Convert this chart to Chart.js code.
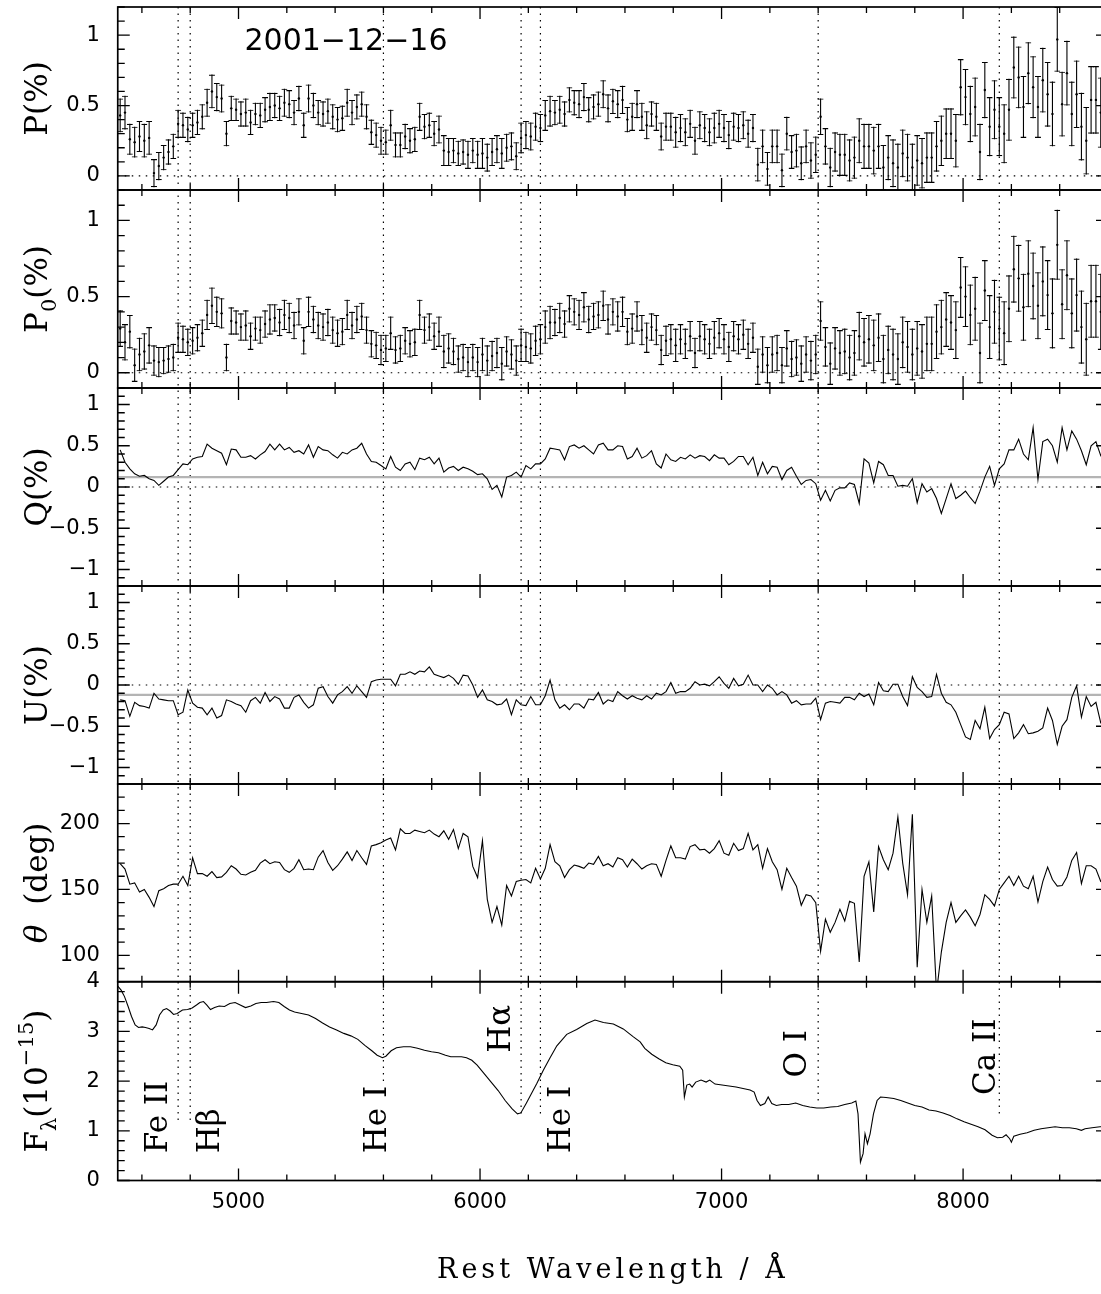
<!DOCTYPE html>
<html>
<head>
<meta charset="utf-8">
<title>2001-12-16 spectropolarimetry</title>
<script src="https://cdn.jsdelivr.net/npm/chart.js@4.4.1/dist/chart.umd.min.js"></script>
<style>
  html, body { margin: 0; padding: 0; background: #fff; overflow: hidden; }
  #wrap { width: 1110px; height: 1294px; }
</style>
</head>
<body>
<div id="wrap"><canvas id="chart" width="1110" height="1294"></canvas></div>
<script>
// rest wavelength bins (Å)
const wave = [
  4510,4530,4550,4570,4590,4610,4630,4650,4670,4690,
  4710,4730,4750,4770,4790,4810,4830,4850,4870,4890,
  4910,4930,4950,4970,4990,5010,5030,5050,5070,5090,
  5110,5130,5150,5170,5190,5210,5230,5250,5270,5290,
  5310,5330,5350,5370,5390,5410,5430,5450,5470,5490,
  5510,5530,5550,5570,5590,5610,5630,5650,5670,5690,
  5710,5730,5750,5770,5790,5810,5830,5850,5870,5890,
  5910,5930,5950,5970,5990,6010,6030,6050,6070,6090,
  6110,6130,6150,6170,6190,6210,6230,6250,6270,6290,
  6310,6330,6350,6370,6390,6410,6430,6450,6470,6490,
  6510,6530,6550,6570,6590,6610,6630,6650,6670,6690,
  6710,6730,6750,6770,6790,6810,6830,6850,6870,6890,
  6910,6930,6950,6970,6990,7010,7030,7050,7070,7090,
  7110,7130,7150,7170,7190,7210,7230,7250,7270,7290,
  7310,7330,7350,7370,7390,7410,7430,7450,7470,7490,
  7510,7530,7550,7570,7590,7610,7630,7650,7670,7690,
  7710,7730,7750,7770,7790,7810,7830,7850,7870,7890,
  7910,7930,7950,7970,7990,8010,8030,8050,8070,8090,
  8110,8130,8150,8170,8190,8210,8230,8250,8270,8290,
  8310,8330,8350,8370,8390,8410,8430,8450,8470,8490,
  8510,8530,8550,8570,8590
];

// P (%)
const polP = [
  0.43,0.45,0.26,0.24,0.28,0.25,0.27,0.02,0.07,0.13,
  0.17,0.21,0.37,0.36,0.33,0.36,0.38,0.42,0.52,0.60,
  0.56,0.55,0.30,0.48,0.47,0.44,0.45,0.38,0.44,0.43,
  0.47,0.49,0.50,0.48,0.52,0.51,0.45,0.55,0.36,0.55,
  0.50,0.45,0.44,0.46,0.42,0.40,0.41,0.52,0.45,0.49,
  0.51,0.42,0.31,0.29,0.25,0.24,0.36,0.22,0.22,0.28,
  0.25,0.26,0.42,0.35,0.36,0.30,0.33,0.18,0.17,0.18,
  0.16,0.17,0.15,0.18,0.15,0.16,0.13,0.17,0.19,0.16,
  0.20,0.21,0.14,0.27,0.29,0.28,0.35,0.34,0.43,0.46,
  0.45,0.47,0.44,0.54,0.52,0.51,0.56,0.47,0.49,0.51,
  0.58,0.48,0.53,0.51,0.54,0.40,0.42,0.51,0.42,0.36,
  0.44,0.42,0.28,0.35,0.35,0.31,0.34,0.31,0.37,0.25,
  0.36,0.34,0.31,0.34,0.37,0.34,0.29,0.35,0.34,0.36,
  0.30,0.34,0.08,0.21,0.05,0.21,0.21,0.04,0.30,0.17,
  0.18,0.09,0.21,0.11,0.15,0.42,0.21,0.06,0.17,0.15,
  0.15,0.11,0.13,0.25,0.21,0.21,0.18,0.21,0.06,0.13,
  0.09,0.06,0.16,0.13,0.06,0.11,0.09,0.13,0.13,0.21,
  0.25,0.30,0.30,0.25,0.63,0.56,0.44,0.49,0.17,0.61,
  0.35,0.47,0.35,0.30,0.47,0.77,0.70,0.49,0.73,0.63,
  0.49,0.68,0.58,0.44,0.97,0.51,0.73,0.44,0.58,0.35,
  0.25,0.54,0.54,0.45,0.50
];

// 1-sigma error on P and P0 (%)
const polErr = [
  0.12,0.12,0.11,0.11,0.11,0.12,0.12,0.10,0.10,0.09,
  0.09,0.09,0.10,0.09,0.09,0.09,0.09,0.09,0.10,0.12,
  0.10,0.10,0.09,0.09,0.08,0.09,0.10,0.09,0.08,0.09,
  0.09,0.10,0.09,0.09,0.10,0.10,0.09,0.09,0.09,0.10,
  0.09,0.09,0.09,0.09,0.09,0.09,0.09,0.10,0.09,0.09,
  0.09,0.09,0.09,0.09,0.10,0.09,0.11,0.09,0.09,0.09,
  0.09,0.09,0.10,0.09,0.09,0.09,0.10,0.11,0.10,0.09,
  0.09,0.09,0.10,0.09,0.10,0.11,0.10,0.10,0.10,0.11,
  0.10,0.10,0.10,0.11,0.10,0.10,0.10,0.10,0.11,0.11,
  0.09,0.10,0.09,0.09,0.09,0.10,0.10,0.09,0.09,0.09,
  0.10,0.10,0.09,0.10,0.10,0.09,0.10,0.10,0.10,0.10,
  0.09,0.10,0.10,0.10,0.10,0.11,0.10,0.10,0.10,0.10,
  0.10,0.10,0.10,0.11,0.10,0.10,0.10,0.10,0.10,0.10,
  0.10,0.10,0.12,0.12,0.12,0.12,0.12,0.12,0.12,0.12,
  0.12,0.12,0.12,0.13,0.13,0.13,0.13,0.14,0.14,0.15,
  0.15,0.15,0.15,0.16,0.16,0.16,0.17,0.16,0.16,0.16,
  0.17,0.17,0.17,0.17,0.17,0.18,0.18,0.18,0.18,0.18,
  0.18,0.18,0.18,0.19,0.20,0.20,0.20,0.21,0.20,0.20,
  0.21,0.21,0.21,0.21,0.22,0.22,0.22,0.22,0.22,0.22,
  0.22,0.23,0.23,0.23,0.23,0.23,0.23,0.23,0.24,0.24,
  0.24,0.24,0.24,0.25,0.25
];

// P0 (%), ISP removed
const polP0 = [
  0.29,0.20,0.27,0.05,0.12,0.14,0.18,0.08,0.07,0.08,
  0.09,0.10,0.23,0.22,0.20,0.21,0.23,0.26,0.38,0.44,
  0.40,0.39,0.10,0.34,0.33,0.30,0.31,0.24,0.29,0.28,
  0.32,0.35,0.36,0.33,0.38,0.36,0.31,0.40,0.21,0.40,
  0.35,0.31,0.30,0.33,0.28,0.26,0.27,0.38,0.31,0.35,
  0.37,0.28,0.19,0.18,0.15,0.16,0.26,0.15,0.16,0.21,
  0.19,0.20,0.38,0.28,0.30,0.24,0.27,0.14,0.16,0.14,
  0.09,0.10,0.07,0.10,0.07,0.12,0.08,0.11,0.13,0.06,
  0.14,0.12,0.08,0.18,0.17,0.16,0.21,0.22,0.30,0.33,
  0.33,0.36,0.32,0.42,0.40,0.38,0.43,0.35,0.37,0.38,
  0.44,0.35,0.40,0.37,0.40,0.27,0.29,0.37,0.28,0.23,
  0.30,0.28,0.15,0.21,0.22,0.18,0.22,0.19,0.24,0.13,
  0.24,0.22,0.19,0.23,0.26,0.22,0.17,0.24,0.22,0.25,
  0.19,0.23,0.04,0.12,0.05,0.12,0.13,0.05,0.16,0.09,
  0.10,0.06,0.12,0.08,0.12,0.34,0.17,0.06,0.16,0.13,
  0.14,0.10,0.13,0.24,0.20,0.22,0.18,0.23,0.09,0.15,
  0.12,0.09,0.20,0.17,0.12,0.16,0.14,0.19,0.19,0.27,
  0.30,0.35,0.33,0.28,0.56,0.50,0.38,0.42,0.13,0.54,
  0.30,0.40,0.29,0.26,0.42,0.68,0.62,0.43,0.65,0.57,
  0.44,0.60,0.51,0.39,0.84,0.45,0.64,0.39,0.51,0.30,
  0.22,0.47,0.47,0.40,0.44
];

// Stokes Q (%)
const stokesQ = [
  0.45,0.30,0.22,0.16,0.13,0.14,0.10,0.08,0.02,0.07,
  0.12,0.14,0.21,0.28,0.27,0.34,0.36,0.37,0.52,0.47,
  0.44,0.41,0.27,0.46,0.45,0.36,0.36,0.38,0.34,0.39,
  0.43,0.52,0.45,0.52,0.45,0.48,0.42,0.44,0.40,0.51,
  0.36,0.49,0.45,0.44,0.39,0.35,0.42,0.40,0.45,0.47,
  0.53,0.40,0.31,0.30,0.26,0.22,0.37,0.24,0.20,0.28,
  0.30,0.21,0.35,0.33,0.36,0.28,0.35,0.18,0.23,0.25,
  0.20,0.24,0.22,0.19,0.15,0.16,0.10,-0.03,0.02,-0.12,
  0.12,0.14,0.18,0.12,0.26,0.22,0.28,0.28,0.34,0.47,
  0.46,0.45,0.33,0.49,0.51,0.47,0.50,0.45,0.40,0.51,
  0.53,0.45,0.45,0.50,0.49,0.34,0.37,0.47,0.35,0.38,
  0.44,0.28,0.23,0.40,0.33,0.31,0.36,0.34,0.39,0.35,
  0.38,0.37,0.32,0.39,0.35,0.35,0.27,0.31,0.37,0.37,
  0.27,0.36,0.14,0.30,0.16,0.25,0.24,0.09,0.20,0.24,
  0.13,0.03,0.08,0.09,0.04,-0.16,-0.04,-0.17,-0.04,-0.01,
  -0.01,0.05,0.03,-0.20,0.34,0.29,0.05,0.31,0.27,0.14,
  0.14,0.01,0.02,0.01,0.10,-0.19,0.04,-0.06,-0.02,-0.14,
  -0.32,-0.14,0.04,-0.14,-0.10,-0.05,-0.13,-0.20,-0.05,0.12,
  0.25,0.02,0.22,0.28,0.45,0.45,0.58,0.40,0.33,0.72,
  0.09,0.55,0.58,0.50,0.30,0.72,0.45,0.68,0.58,0.44,
  0.27,0.50,0.55,0.38,0.45
];

// Stokes U (%)
const stokesU = [
  -0.18,-0.19,-0.38,-0.21,-0.25,-0.26,-0.28,-0.10,-0.17,-0.18,
  -0.19,-0.19,-0.36,-0.33,-0.06,-0.22,-0.27,-0.28,-0.36,-0.28,
  -0.40,-0.37,-0.18,-0.20,-0.23,-0.25,-0.33,-0.19,-0.15,-0.22,
  -0.09,-0.20,-0.14,-0.17,-0.28,-0.28,-0.15,-0.12,-0.21,-0.28,
  -0.24,-0.04,-0.02,-0.14,-0.22,-0.12,-0.08,-0.02,-0.10,-0.01,
  -0.08,-0.15,0.04,0.06,0.07,0.07,0.07,-0.01,0.13,0.13,
  0.16,0.13,0.17,0.16,0.22,0.13,0.11,0.09,0.12,0.08,
  0.01,0.12,0.11,0.00,-0.15,-0.06,-0.18,-0.20,-0.24,-0.23,
  -0.17,-0.36,-0.18,-0.24,-0.25,-0.14,-0.24,-0.24,-0.13,0.06,
  -0.18,-0.28,-0.24,-0.30,-0.23,-0.23,-0.28,-0.17,-0.18,-0.09,
  -0.23,-0.18,-0.20,-0.08,-0.13,-0.17,-0.13,-0.16,-0.18,-0.13,
  -0.17,-0.10,-0.12,-0.08,0.03,-0.10,-0.08,-0.08,-0.04,0.04,
  0.00,0.01,-0.01,0.04,0.10,0.02,-0.04,0.08,-0.01,0.01,
  0.12,0.00,0.00,-0.08,0.00,-0.04,-0.12,-0.08,-0.12,-0.22,
  -0.19,-0.24,-0.23,-0.23,-0.16,-0.42,-0.22,-0.20,-0.21,-0.22,
  -0.15,-0.15,-0.18,-0.10,-0.14,-0.11,-0.24,0.03,-0.07,-0.08,
  0.01,0.01,-0.14,-0.25,0.10,-0.03,-0.08,-0.15,-0.14,0.13,
  -0.10,-0.21,-0.24,-0.33,-0.48,-0.63,-0.66,-0.43,-0.53,-0.27,
  -0.65,-0.54,-0.48,-0.33,-0.35,-0.65,-0.58,-0.48,-0.59,-0.58,
  -0.56,-0.52,-0.28,-0.43,-0.72,-0.50,-0.42,-0.15,-0.01,-0.39,
  -0.14,-0.26,-0.21,-0.46,-0.50
];

// position angle (deg)
const theta = [
  169.5,165.5,154,155,148,150,144,137,149,150.5,
  153,154,154,160,153,174,162,162,160,163.5,
  159,159.5,163,168,165.5,161.5,161,163,164.5,170,
  172.5,169.5,171,170.5,165,163,166,172.5,165,165.5,
  165,174.5,179.5,170.5,164.5,168,173,178.5,172,179.5,
  174,169,183,184,185.5,187.5,189,180,196,192.5,
  192.5,195,194,193,195,192,190,194.5,188,195.5,
  181,192.5,190,167.5,159,187,142.5,125,137,123,
  153,145,156,157,157.5,155,166,158,166,184,
  171,168,159,165,168.5,167.5,166,170,169,175,
  168,169.5,167,174,172.5,167,173,169.5,165.5,168,
  169.5,169,160,172,183,174,174,173,182.5,184,
  180,180.5,177.5,181,187,177.5,176,185,179.5,181,
  192.5,180,184,166,181,171,165,150,166,159,
  152.5,138,146,145,140,103,127.5,117.5,125,135,
  126,141,139.5,95,160,171,133,182.5,172.5,165,
  177.5,205,170,146,207,91,150,125,145,72,
  102.5,125,140,125,130,134.5,129,122.5,131,146,
  142.5,137.5,150,155,160,153,160,152.5,150.5,160,
  140.5,156,167,157.5,152.5,153,159.5,172,178,154.5,
  168,168,165.5,156,155
];

// total flux spectrum, F_lambda (1e-15)
const fluxWave = [
  4500,4514,4528,4543,4557,4572,4586,4601,4615,4630,4644,4659,4673,4688,4702,4717,4731,4746,
  4768,4789,4808,4826,4840,4855,4869,4884,4901,4920,4942,4964,4986,5007,5029,5051,5072,5094,
  5116,5145,5167,5189,5211,5232,5261,5290,5319,5348,5377,5406,5436,5465,5494,5523,5552,5574,
  5596,5610,5632,5654,5683,5712,5741,5770,5799,5828,5857,5879,5901,5923,5944,5966,5988,6017,
  6046,6075,6104,6133,6155,6169,6191,6213,6235,6262,6290,6318,6359,6400,6442,6476,6511,6552,
  6593,6635,6663,6682,6711,6740,6769,6798,6827,6839,6846,6856,6868,6878,6893,6915,6936,6951,
  6973,7002,7031,7060,7089,7118,7135,7147,7161,7179,7193,7208,7227,7249,7278,7307,7336,7365,
  7394,7423,7452,7481,7510,7539,7556,7565,7575,7586,7594,7604,7615,7629,7644,7658,7681,7713,
  7742,7771,7800,7830,7859,7888,7917,7946,7975,8004,8033,8062,8091,8120,8142,8164,8178,8193,
  8200,8210,8236,8265,8294,8323,8352,8381,8411,8440,8469,8490,8505,8534,8567,8600
];
const flux = [
  3.91,3.83,3.70,3.50,3.30,3.13,3.08,3.09,3.08,3.06,3.03,3.13,3.33,3.43,3.46,3.41,3.34,3.36,
  3.43,3.44,3.47,3.53,3.58,3.60,3.53,3.44,3.48,3.51,3.50,3.56,3.58,3.53,3.48,3.51,3.56,3.58,
  3.58,3.60,3.58,3.50,3.43,3.39,3.36,3.33,3.26,3.17,3.09,3.03,2.96,2.91,2.84,2.72,2.61,2.52,
  2.47,2.50,2.61,2.67,2.69,2.69,2.66,2.62,2.59,2.57,2.52,2.49,2.49,2.49,2.47,2.42,2.32,2.15,
  1.98,1.81,1.61,1.44,1.34,1.36,1.55,1.75,1.95,2.22,2.47,2.71,2.94,3.04,3.16,3.23,3.18,3.15,
  3.05,2.89,2.79,2.66,2.54,2.45,2.37,2.33,2.30,2.22,1.68,1.92,1.94,1.88,1.98,2.02,1.98,2.02,
  1.94,1.92,1.90,1.88,1.85,1.82,1.78,1.61,1.51,1.55,1.68,1.55,1.51,1.53,1.53,1.56,1.51,1.48,
  1.46,1.46,1.48,1.49,1.53,1.56,1.60,1.34,0.37,0.54,0.94,0.74,0.94,1.34,1.61,1.68,1.67,1.65,
  1.61,1.56,1.51,1.48,1.42,1.40,1.36,1.31,1.24,1.18,1.13,1.08,1.02,0.91,0.86,0.87,0.92,0.84,
  0.77,0.89,0.93,0.96,1.01,1.04,1.06,1.08,1.06,1.06,1.04,1.01,1.04,1.06,1.08,1.08
];

// interstellar polarization removed for P0
const qIsp = 0.12;
const uIsp = -0.12;

// line identifications
const lineWave = [4750, 4800, 5600, 6170, 6250, 7400, 8150];
const lineEnd = [1.14, 1.14, 1.92, 1.35, 1.31, 1.51, 1.31];
const labelText = ['Fe II', 'H\u03b2', 'He I', 'H\u03b1', 'He I', 'O I', 'Ca II'];
const labelWave = [4704, 4919, 5611, 6124, 6373, 7351, 8133];
const labelBase = [0.55, 0.55, 0.55, 2.57, 0.55, 2.07, 1.72];

// ticks
const xTicks = [5000, 6000, 7000, 8000];
const pTicks = [0, 0.5, 1];
const quTicks = [-1, -0.5, 0, 0.5, 1];
const thetaTicks = [100, 150, 200];
const fluxTicks = [0, 1, 2, 3, 4];

const tickFont = { family: 'DejaVu Sans', size: 21 };
const serif = '"DejaVu Serif"';

// panels from top to bottom
const panels = [
  { id: 'yP',  min: -0.1, max: 1.2, ticks: pTicks, minor: 0.1, weight: 183,
    title: [{ t: 'P(%)' }] },
  { id: 'yP0', min: -0.1, max: 1.2, ticks: pTicks, minor: 0.1, weight: 198,
    title: [{ t: 'P' }, { t: '0', sub: true }, { t: '(%)' }] },
  { id: 'yQ',  min: -1.2, max: 1.2, ticks: quTicks, minor: 0.1, weight: 198,
    title: [{ t: 'Q(%)' }] },
  { id: 'yU',  min: -1.2, max: 1.2, ticks: quTicks, minor: 0.1, weight: 198,
    title: [{ t: 'U(%)' }] },
  { id: 'yT',  min: 80, max: 230, ticks: thetaTicks, minor: 10, weight: 197.7,
    title: [{ t: '\u03b8', italic: true }, { t: '  (deg)' }] },
  { id: 'yF',  min: 0, max: 4, ticks: fluxTicks, minor: 0.2, weight: 198.8,
    title: [{ t: 'F' }, { t: '\u03bb', sub: true }, { t: '(10' }, { t: '\u221215', sup: true }, { t: ')' }] }
];

const fmt = (v) => (v < 0 ? '\u2212' : '') + Math.abs(v);

const scales = {
  x: {
    type: 'linear', min: 4500, max: 8600, position: 'bottom', offset: false,
    grid: { display: false, drawTicks: false }, border: { display: false },
    ticks: { font: tickFont, color: '#000', padding: 9, maxRotation: 0, autoSkip: false, callback: (v) => String(v) },
    afterBuildTicks: (s) => { s.ticks = xTicks.map((v) => ({ value: v })); },
    afterFit: (s) => { s.height = 40; s.paddingLeft = 0; s.paddingRight = 0; }
  }
};
// left boxes in a stack are laid out last-first, so add them bottom panel first
panels.slice().reverse().forEach((p) => {
  scales[p.id] = {
    type: 'linear', position: 'left', stack: 'panels', stackWeight: p.weight,
    min: p.min, max: p.max, offset: false,
    grid: { display: false, drawTicks: false }, border: { display: false },
    ticks: { font: tickFont, color: '#000', padding: 18, autoSkip: false, callback: fmt },
    afterBuildTicks: (s) => { s.ticks = p.ticks.map((v) => ({ value: v })); },
    afterFit: (s) => { s.width = 117.75; s.paddingTop = 0; s.paddingBottom = 0; }
  };
});

const binPts = (vals) => wave.map((w, i) => ({ x: w, y: vals[i] }));
const errPts = (vals) => wave.map((w, i) => ({ x: w, y: [vals[i] - polErr[i], vals[i] + polErr[i]] }));
const hLine = (y) => [{ x: 4500, y: y }, { x: 8600, y: y }];

function errorBarSets(vals, axis) {
  return [
    { type: 'bar', yAxisID: axis, data: errPts(vals), grouped: false, barThickness: 1.1,
      backgroundColor: '#000', borderWidth: 0, inflateAmount: 0, order: 1 },
    { type: 'bar', yAxisID: axis, data: errPts(vals), grouped: false, barThickness: 6,
      backgroundColor: 'rgba(0,0,0,0)', borderColor: '#000', borderSkipped: false,
      borderWidth: { top: 1.1, bottom: 1.1, left: 0, right: 0 }, inflateAmount: 0, order: 1 },
    { type: 'line', yAxisID: axis, data: binPts(vals), showLine: false, pointRadius: 1.2,
      pointBackgroundColor: '#000', pointBorderWidth: 0, order: 0 }
  ];
}
const curve = (data, axis) => ({ type: 'line', yAxisID: axis, data: data, borderColor: '#000',
  borderWidth: 1.1, pointRadius: 0, tension: 0, order: 0 });
const dotted = (axis) => ({ type: 'line', yAxisID: axis, data: hLine(0), borderColor: '#000',
  borderWidth: 1.2, borderDash: [1.5, 5.5], pointRadius: 0, order: 5 });
const isp = (axis, y) => ({ type: 'line', yAxisID: axis, data: hLine(y), borderColor: '#b4b4b4',
  borderWidth: 2.2, pointRadius: 0, order: 4 });

const datasets = [
  ...errorBarSets(polP, 'yP'), dotted('yP'),
  ...errorBarSets(polP0, 'yP0'), dotted('yP0'),
  curve(binPts(stokesQ), 'yQ'), dotted('yQ'), isp('yQ', qIsp),
  curve(binPts(stokesU), 'yU'), dotted('yU'), isp('yU', uIsp),
  curve(binPts(theta), 'yT'),
  curve(fluxWave.map((w, i) => ({ x: w, y: flux[i] })), 'yF')
];

function rotatedParts(ctx, parts, xBase, yMid, size) {
  ctx.save();
  ctx.translate(xBase, yMid);
  ctx.rotate(-Math.PI / 2);
  ctx.textAlign = 'left';
  ctx.textBaseline = 'alphabetic';
  ctx.fillStyle = '#000';
  let total = 0;
  const items = parts.map((p) => {
    const s = (p.sub || p.sup) ? size * 0.68 : size;
    const font = (p.italic ? 'italic ' : '') + s + 'px ' + serif;
    ctx.font = font;
    const w = ctx.measureText(p.t).width;
    total += w;
    return { t: p.t, font: font, w: w, dy: p.sub ? size * 0.28 : (p.sup ? -size * 0.45 : 0) };
  });
  let x = -total / 2;
  items.forEach((it) => { ctx.font = it.font; ctx.fillText(it.t, x, it.dy); x += it.w; });
  ctx.restore();
}

const decor = {
  id: 'decor',
  beforeDatasetsDraw(chart) {
    const ctx = chart.ctx, xs = chart.scales.x, yF = chart.scales.yF;
    ctx.save();
    ctx.strokeStyle = '#000';
    ctx.lineWidth = 1.2;
    ctx.setLineDash([1.5, 5]);
    lineWave.forEach((w, i) => {
      const px = xs.getPixelForValue(w);
      ctx.beginPath();
      ctx.moveTo(px, chart.chartArea.top);
      ctx.lineTo(px, yF.getPixelForValue(lineEnd[i]));
      ctx.stroke();
    });
    ctx.restore();
  },
  afterDatasetsDraw(chart) {
    const ctx = chart.ctx, xs = chart.scales.x;
    const left = chart.chartArea.left, right = chart.chartArea.right;
    ctx.save();
    ctx.strokeStyle = '#000';
    panels.forEach((p) => {
      const s = chart.scales[p.id];
      ctx.lineWidth = 1.3;
      ctx.beginPath();
      const nMinor = Math.round((p.max - p.min) / p.minor);
      for (let k = 0; k <= nMinor; k++) {
        const v = p.min + k * p.minor;
        const major = p.ticks.some((t) => Math.abs(t - v) < p.minor / 10);
        const len = major ? 12 : 7;
        const py = s.getPixelForValue(v);
        ctx.moveTo(left, py); ctx.lineTo(left + len, py);
        ctx.moveTo(right, py); ctx.lineTo(right - len, py);
      }
      for (let w = 4600; w < 8600; w += 200) {
        const len = (w % 1000 === 0) ? 12 : 6;
        const px = xs.getPixelForValue(w);
        ctx.moveTo(px, s.top); ctx.lineTo(px, s.top + len);
        ctx.moveTo(px, s.bottom); ctx.lineTo(px, s.bottom - len);
      }
      ctx.stroke();
      ctx.lineWidth = 1.7;
      ctx.strokeRect(left, s.top, right - left, s.bottom - s.top);
    });
    ctx.restore();
  },
  afterDraw(chart) {
    const ctx = chart.ctx, xs = chart.scales.x, yF = chart.scales.yF;
    const area = chart.chartArea;
    // axis titles
    panels.forEach((p) => {
      const s = chart.scales[p.id];
      rotatedParts(ctx, p.title, 47, (s.top + s.bottom) / 2, 31);
    });
    // line identifications
    ctx.save();
    ctx.fillStyle = '#000';
    ctx.font = '31px ' + serif;
    ctx.textAlign = 'left';
    ctx.textBaseline = 'alphabetic';
    labelText.forEach((t, i) => {
      ctx.save();
      ctx.translate(xs.getPixelForValue(labelWave[i]), yF.getPixelForValue(labelBase[i]));
      ctx.rotate(-Math.PI / 2);
      ctx.fillText(t, 0, 0);
      ctx.restore();
    });
    // date
    ctx.font = '30px "DejaVu Sans"';
    ctx.textAlign = 'center';
    ctx.fillText('2001\u221212\u221216', 346, 50);
    // x title
    ctx.font = '27px ' + serif;
    ctx.letterSpacing = '4px';
    ctx.fillText('Rest Wavelength / \u00c5', (area.left + area.right) / 2, 1278);
    ctx.letterSpacing = '0px';
    ctx.restore();
  }
};

new Chart(document.getElementById('chart'), {
  type: 'line',
  data: { datasets: datasets },
  options: {
    responsive: false,
    animation: false,
    events: [],
    layout: { autoPadding: false, padding: { top: 7, left: 0, right: 2, bottom: 73.5 } },
    plugins: { legend: { display: false }, tooltip: { enabled: false } },
    scales: scales
  },
  plugins: [decor]
});
</script>
</body>
</html>
